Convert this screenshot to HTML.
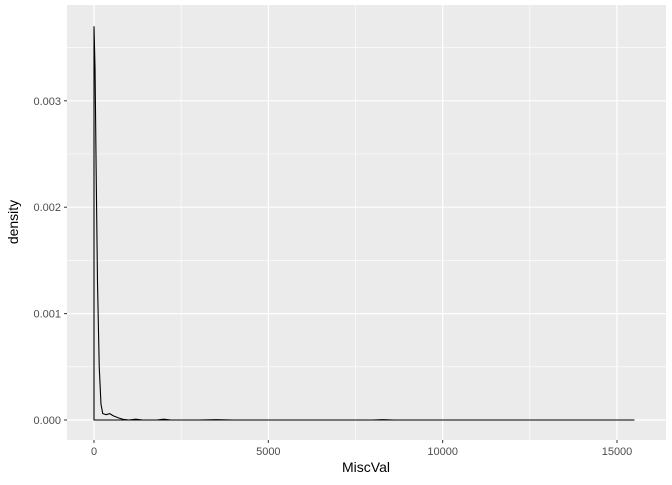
<!DOCTYPE html>
<html><head><meta charset="utf-8"><style>
body{margin:0;background:#fff;}
svg text{font-family:"Liberation Sans",Arial,sans-serif;}
</style></head><body>
<svg width="672" height="480" xmlns="http://www.w3.org/2000/svg">
<rect x="67" y="5" width="599" height="435" fill="#ebebeb"/>
<g id="grid"></g>
<g id="axes"></g>
<path id="curve" fill="none" stroke="#000" stroke-width="1.1"/>
<text x="366" y="472" text-anchor="middle" font-size="14" fill="#000">MiscVal</text>
<text transform="translate(18,222) rotate(-90)" text-anchor="middle" font-size="14" fill="#000">density</text>
<script>
const xTicks=[0,5000,10000,15000];
const xMinor=[2500,7500,12500];
const yTicks=[0,0.001,0.002,0.003];
const yTickLabels=["0.000","0.001","0.002","0.003"];
const yMinor=[0.0005,0.0015,0.0025,0.0035];
const densX=[0,30,60,100,150,200,250,350,450,550,700,850,1000,1200,1400,1800,2000,2200,3000,3500,4000,8000,8300,8600,15500];
const densY=[0.0037,0.0033,0.0024,0.0013,0.0005,0.00015,0.00006,0.00005,0.00006,0.00004,0.00002,0.000005,0,0.000008,0,0,0.000008,0,0,0.000003,0,0,0.000003,0,0];
const sx=v=>94+v*(523/15000);
const sy=v=>420-v*106.4*1000;
const NS="http://www.w3.org/2000/svg";
const g=document.getElementById('grid'),ax=document.getElementById('axes');
function line(p,x1,y1,x2,y2,c,w,n){const l=document.createElementNS(NS,'line');l.setAttribute('x1',x1);l.setAttribute('y1',y1);l.setAttribute('x2',x2);l.setAttribute('y2',y2);l.setAttribute('stroke',c);l.setAttribute('stroke-width',w);


p.appendChild(l);}
function txt(x,y,s,a,n){const t=document.createElementNS(NS,'text');t.setAttribute('x',x);t.setAttribute('y',y);t.setAttribute('text-anchor',a);t.setAttribute('font-size','11');t.setAttribute('fill','#4d4d4d');t.textContent=s;


ax.appendChild(t);}
xMinor.forEach(v=>line(g,sx(v),5,sx(v),440,'#fff',0.6,'x-minor-gridline'));
yMinor.forEach(v=>line(g,67,sy(v),666,sy(v),'#fff',0.6,'y-minor-gridline'));
xTicks.forEach(v=>{line(g,sx(v),5,sx(v),440,'#fff',1.2,'x-gridline');line(ax,sx(v),440,sx(v),443,'#333',1,'x-tick');txt(sx(v),455,String(v),'middle','x-tick-label');});
yTicks.forEach((v,i)=>{line(g,67,sy(v),666,sy(v),'#fff',1.2,'y-gridline');line(ax,64,sy(v),67,sy(v),'#333',1,'y-tick');txt(61,sy(v)+4,yTickLabels[i],'end','y-tick-label');});
let d='M'+sx(densX[0])+','+sy(0);
densX.forEach((x,i)=>{d+=' L'+sx(x).toFixed(2)+','+sy(densY[i]).toFixed(2);});
d+=' L'+sx(densX[densX.length-1])+','+sy(0)+' Z';
document.getElementById('curve').setAttribute('d',d);
</script>
</svg>
</body></html>
